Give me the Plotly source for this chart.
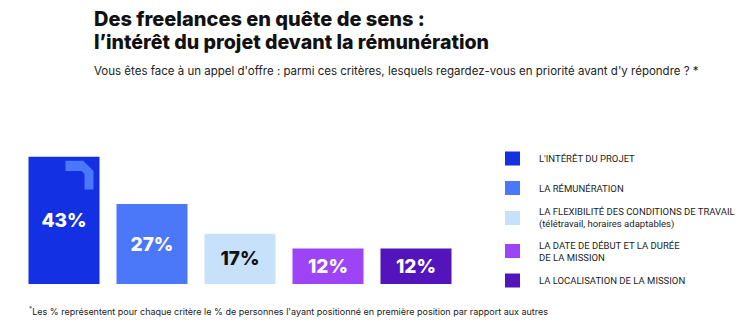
import plotly.graph_objects as go

categories = ["L'INTÉRÊT DU PROJET", "LA RÉMUNÉRATION",
              "LA FLEXIBILITÉ DES CONDITIONS DE TRAVAIL<br>(télétravail, horaires adaptables)",
              "LA DATE DE DÉBUT ET LA DURÉE<br>DE LA MISSION",
              "LA LOCALISATION DE LA MISSION"]
values = [43, 27, 17, 12, 12]
colors = ["#1330E3", "#4B78F8", "#C7E1FA", "#9D45F6", "#5314BB"]
text_colors = ["white", "white", "#111111", "white", "white"]

W, H = 752, 331
ML, MR, MT, MB = 20, 292, 136, 47
PW, PH = W - ML - MR, H - MT - MB

def px(x):
    return (x - ML) / PW

def py(y):
    return (H - MB - y) / PH

fig = go.Figure()
fig.add_trace(go.Bar(
    x=list(range(len(values))), y=values,
    marker=dict(color=colors, line=dict(width=0)),
    texttemplate="%{y}%", textposition="inside", insidetextanchor="middle",
    textangle=0,
    textfont=dict(family="Inter", size=19, color=text_colors, weight=800),
    hoverinfo="skip", showlegend=False,
))

shapes = []
# decorative corner bracket on the first bar (data coords relative to bar 1)
v0 = values[0]
path = (f"M 0.017 {v0-1.4} L 0.22 {v0-1.4} L 0.335 {v0-4.8} L 0.335 {v0-11.1} "
        f"L 0.233 {v0-11.1} L 0.233 {v0-5.8} L 0.199 {v0-4.8} L 0.017 {v0-4.8} Z")
shapes.append(dict(type="path", xref="x", yref="y", path=path,
                   fillcolor="#4B78F8", line=dict(width=0), layer="above"))

annotations = []
# legend (manual)
sq_centers = [158.5, 188, 218, 251, 280.5]
for i, (lab, col) in enumerate(zip(categories, colors)):
    cy = sq_centers[i]
    shapes.append(dict(type="rect", xref="paper", yref="paper",
                       x0=px(505), x1=px(520), y0=py(cy + 7), y1=py(cy - 7),
                       fillcolor=col, line=dict(width=0)))
    annotations.append(dict(xref="paper", yref="paper", x=px(537), y=py(cy),
                            text=lab, showarrow=False, xanchor="left", yanchor="middle",
                            align="left",
                            font=dict(family="Liberation Sans Narrow, Arial Narrow, Roboto", size=9.5, color="#222222")))

annotations.append(dict(xref="paper", yref="paper", x=px(92), y=py(19),
                        text="Des freelances en quête de sens :", showarrow=False,
                        xanchor="left", yanchor="middle",
                        font=dict(family="Inter", size=20, color="#111111", weight=800)))
annotations.append(dict(xref="paper", yref="paper", x=px(92), y=py(42),
                        text="l’intérêt du projet devant la rémunération", showarrow=False,
                        xanchor="left", yanchor="middle",
                        font=dict(family="Inter", size=19.6, color="#111111", weight=800)))
annotations.append(dict(xref="paper", yref="paper", x=px(92), y=py(71),
                        text="Vous êtes face à un appel d'offre : parmi ces critères, lesquels regardez-vous en priorité avant d'y répondre ? *",
                        showarrow=False, xanchor="left", yanchor="middle",
                        font=dict(family="Inter", size=11.5, color="#222222")))
annotations.append(dict(xref="paper", yref="paper", x=px(27), y=py(311),
                        text="<sup>*</sup>Les % représentent pour chaque critère le % de personnes l'ayant positionné en première position par rapport aux autres",
                        showarrow=False, xanchor="left", yanchor="middle",
                        font=dict(family="Inter", size=9, color="#222222")))

fig.update_layout(
    width=W, height=H,
    margin=dict(l=ML, r=MR, t=MT, b=MB, pad=0),
    paper_bgcolor="white", plot_bgcolor="white",
    bargap=0.193,
    xaxis=dict(range=[-0.5, 4.5], visible=False, fixedrange=True),
    yaxis=dict(range=[0, 50], visible=False, fixedrange=True),
    shapes=shapes, annotations=annotations,
    uniformtext=dict(mode=False),
)

fig.write_html("out.html", config={"displayModeBar": False})
